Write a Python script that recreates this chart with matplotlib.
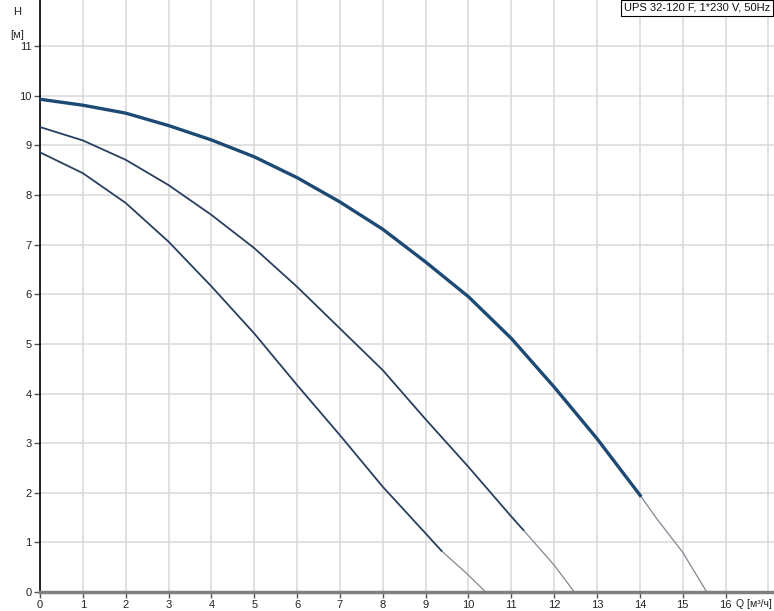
import matplotlib
matplotlib.use("Agg")
import matplotlib.pyplot as plt

# Curve 1 (max speed) - thick operating part and thin extension
q1 = [0, 1, 2, 3, 4, 5, 6, 7, 8, 9, 10, 11, 12, 13, 14.03]
h1 = [9.93, 9.81, 9.65, 9.40, 9.11, 8.77, 8.35, 7.86, 7.31, 6.65, 5.95, 5.11, 4.13, 3.09, 1.92]
q1_ext = [14.03, 14.4, 15, 15.56]
h1_ext = [1.92, 1.47, 0.80, 0.0]

# Curve 2 (middle speed)
q2 = [0, 1, 2, 3, 4, 5, 6, 7, 8, 9, 10, 11, 11.28]
h2 = [9.37, 9.10, 8.71, 8.20, 7.60, 6.93, 6.15, 5.31, 4.47, 3.48, 2.52, 1.52, 1.25]
q2_ext = [11.28, 12, 12.47]
h2_ext = [1.25, 0.54, 0.0]

# Curve 3 (low speed)
q3 = [0, 1, 2, 3, 4, 5, 6, 7, 8, 9, 9.37]
h3 = [8.86, 8.44, 7.84, 7.06, 6.16, 5.21, 4.17, 3.16, 2.12, 1.18, 0.83]
q3_ext = [9.37, 10, 10.4]
h3_ext = [0.83, 0.34, 0.0]

x_ticks = list(range(0, 17))
x_grid = list(range(0, 18))
y_ticks = list(range(0, 12))
title_text = "UPS 32-120 F, 1*230 V, 50Hz"

plt.rcParams['font.family'] = ['Liberation Sans', 'DejaVu Sans']

W, H = 774, 611
fig = plt.figure(figsize=(W / 100, H / 100), dpi=100)
ax = fig.add_axes([40 / W, (H - 592) / H, (W - 40) / W, 592 / H])
ax.set_xlim(0, 17.13)
ax.set_ylim(0, 11.93)

for xv in x_grid:
    ax.axvline(xv, color='#d9d9d9', lw=1.1, zorder=0)
for yv in y_ticks:
    ax.axhline(yv, color='#d9d9d9', lw=1.1, zorder=0)

navy = '#1c4a74'
ax.plot(q1, h1, color=navy, lw=2.4, solid_capstyle='butt', solid_joinstyle='round', zorder=3)
ax.plot(q1_ext, h1_ext, color='#808890', lw=0.9, zorder=2)
ax.plot(q2, h2, color='#2a3f5f', lw=1.3, solid_joinstyle='round', zorder=3)
ax.plot(q2_ext, h2_ext, color='#808890', lw=0.9, zorder=2)
ax.plot(q3, h3, color='#2a3f5f', lw=1.3, solid_joinstyle='round', zorder=3)
ax.plot(q3_ext, h3_ext, color='#808890', lw=0.9, zorder=2)

for s in ['top', 'right']:
    ax.spines[s].set_visible(False)
ax.spines['left'].set_color('black')
ax.spines['left'].set_linewidth(1.2)
ax.spines['bottom'].set_color('#808080')
ax.spines['bottom'].set_linewidth(2.5)

ax.set_xticks(x_ticks)
ax.set_yticks(y_ticks)
ax.tick_params(axis='both', direction='out', length=4, width=1, color='#555555',
               labelsize=8, labelcolor='#222222', pad=2)

fig.text(17 / W, 1 - 12 / H, "H", ha='center', va='center', fontsize=8, color='#222222')
fig.text(17 / W, 1 - 35 / H, "[м]", ha='center', va='center', fontsize=8, color='#222222')
fig.text(772 / W, 1 - 604 / H, "Q [м³/ч]", ha='right', va='center', fontsize=7.5, color='#222222')

fig.text(770 / W, 1 - 8 / H, title_text, ha='right', va='center', fontsize=8, color='#111111',
         bbox=dict(boxstyle='square,pad=0.25', facecolor='white', edgecolor='black', lw=0.8))

fig.savefig("out.png", dpi=100)
